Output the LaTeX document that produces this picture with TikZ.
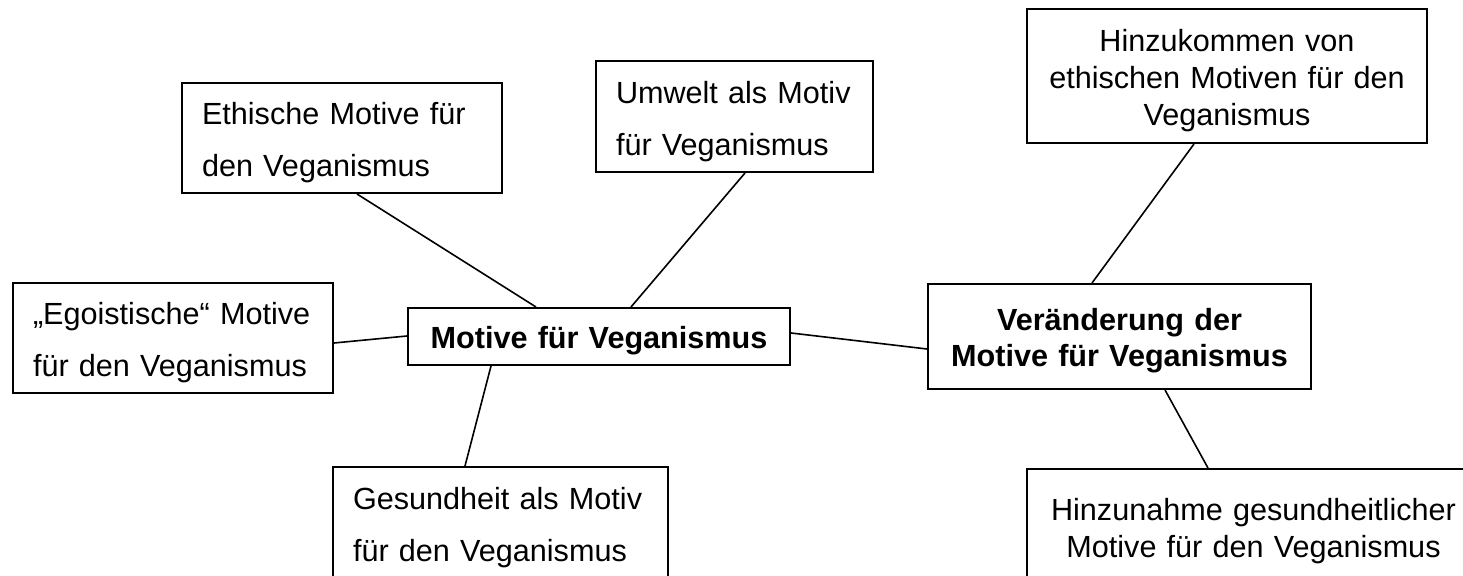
\documentclass[tikz,border=0pt]{standalone}
\usepackage{fontspec}
\setmainfont{Liberation Sans}
\usetikzlibrary{calc}
\begin{document}
\tikzset{
  box/.style={draw, line width=1pt, inner xsep=10pt, inner ysep=0pt, anchor=center, text height=15.7pt},
  lbox/.style={box, align=left, font=\fontsize{15.3}{26}\selectfont},
  cbox/.style={box, align=center, font=\fontsize{15.3}{18.3}\selectfont},
  bbox/.style={cbox, font=\fontsize{15.3}{18}\selectfont\bfseries},
  link/.style={line width=0.8pt},
}
\begin{tikzpicture}[x=0.5pt,y=-0.5pt]
\useasboundingbox (0,0) rectangle (1463,576);
\clip (0,0) rectangle (1463,576);
% boxes
\node[lbox, text width=140pt, minimum height=55pt] (A) at (342,138) {Ethische Motive für\\den Veganismus};
\node[lbox, text width=118.5pt, minimum height=55.5pt] (B) at (734.5,116.5) {Umwelt als Motiv\\für Veganismus};
\node[cbox, text width=180pt, minimum height=67pt] (C) at (1227,76) {Hinzukommen von\\ethischen Motiven für den\\Veganismus};
\node[lbox, text width=140pt, minimum height=55pt] (D) at (173,338) {„Egoistische“ Motive\\für den Veganismus};
\node[bbox, text width=171pt, minimum height=28.5pt] (E) at (599,336.5) {Motive für Veganismus};
\node[bbox, text width=171.5pt, minimum height=52.5pt] (F) at (1119.5,336.5) {Veränderung der\\Motive für Veganismus};
\node[lbox, text width=147.5pt, minimum height=55.5pt] (G) at (500.5,522.5) {Gesundheit als Motiv\\für den Veganismus};
\node[cbox, text width=206.5pt, minimum height=57.5pt] (H) at (1253.5,526.5) {Hinzunahme gesundheitlicher\\Motive für den Veganismus};
% connectors
\draw[link] ($(A.south west)+(176,0)$) -- ($(E.north west)+(129,0)$);
\draw[link] ($(B.south west)+(150,0)$) -- ($(E.north west)+(224,0)$);
\draw[link] ($(D.north east)+(0,61)$) -- ($(E.north west)+(0,29)$);
\draw[link] ($(E.south west)+(84,0)$) -- ($(G.north west)+(133,0)$);
\draw[link] ($(E.north east)+(0,26)$) -- ($(F.north west)+(0,66)$);
\draw[link] ($(C.south west)+(168,0)$) -- ($(F.north west)+(165,0)$);
\draw[link] ($(F.south west)+(238,0)$) -- ($(H.north west)+(182,0)$);
\end{tikzpicture}
\end{document}
